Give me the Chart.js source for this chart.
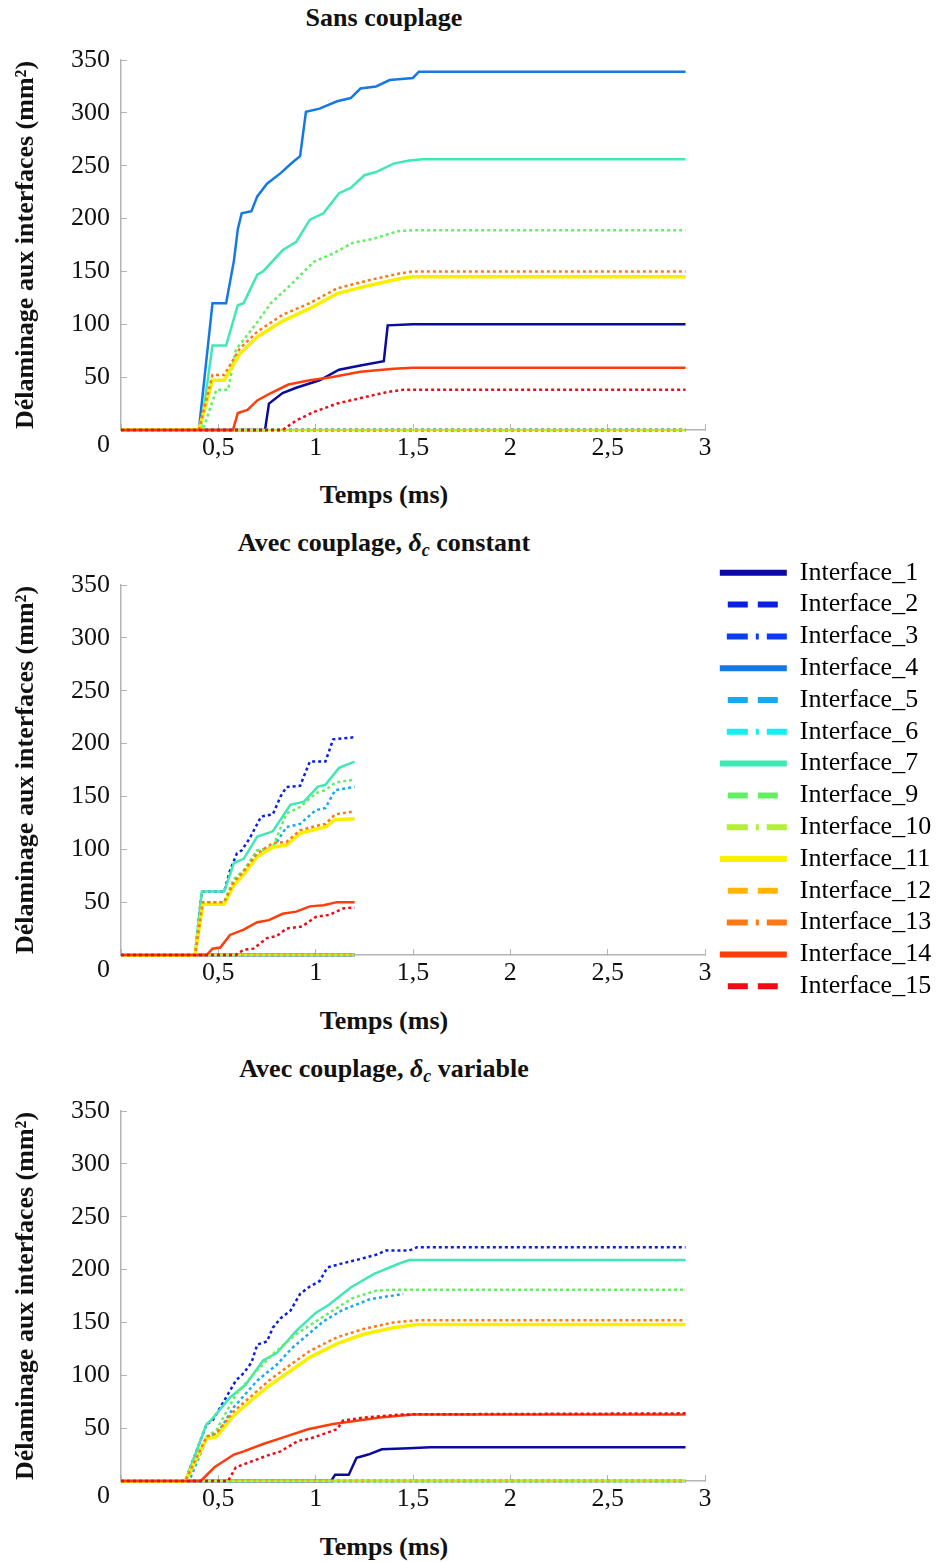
<!DOCTYPE html>
<html>
<head>
<meta charset="utf-8">
<script src="https://cdn.jsdelivr.net/npm/chart.js@4/dist/chart.umd.min.js"></script>
<style>
    body { margin: 0; background: #fff; }
    #page { position: relative; width: 946px; height: 1562px; font-family: "Liberation Serif", "Times New Roman", serif; color: #111; }
    .ttl, .xt { position: absolute; left: 0; width: 768px; text-align: center; font-weight: bold; font-size: 26px; line-height: 30px; }
    .ttl i { font-weight: bold; }
    .ttl sub { font-size: 18px; vertical-align: -5px; line-height: 0; }
    .box { position: absolute; left: 0; }
    #legendBox { position: absolute; left: 714px; top: 554px; }
</style>
</head>
<body>
<div id="page">
    <div class="ttl" style="top:3px">Sans couplage</div>
    <div class="box" style="top:30px"><canvas id="chartSans" width="720" height="440"></canvas></div>
    <div class="xt" style="top:480px">Temps (ms)</div>

    <div class="ttl" style="top:528px">Avec couplage, <i>δ<sub>c</sub></i> constant</div>
    <div class="box" style="top:555px"><canvas id="chartConst" width="720" height="440"></canvas></div>
    <div class="xt" style="top:1006px">Temps (ms)</div>

    <div class="ttl" style="top:1054px">Avec couplage, <i>δ<sub>c</sub></i> variable</div>
    <div class="box" style="top:1081px"><canvas id="chartVar" width="720" height="440"></canvas></div>
    <div class="xt" style="top:1532px">Temps (ms)</div>

    <div id="legendBox"><canvas id="legendChart" width="232" height="470"></canvas></div>
</div>
<script>
// ========== DATA ==========
const names = ['Interface_1', 'Interface_2', 'Interface_3', 'Interface_4', 'Interface_5', 'Interface_6', 'Interface_7',
    'Interface_9', 'Interface_10', 'Interface_11', 'Interface_12', 'Interface_13', 'Interface_14', 'Interface_15'];
const colors = ['#0a0a9c', '#0a1ee6', '#0a3cf0', '#1478e6', '#14aaf0', '#14eef0', '#40e8b4',
    '#64ee64', '#b4f032', '#f8f000', '#ffb400', '#ff7814', '#ff3c0a', '#f00a14'];
const styles = ['solid', 'dash', 'dashdot', 'solid', 'dash', 'dashdot', 'solid',
    'dash', 'dashdot', 'solid', 'dash', 'dashdot', 'solid', 'dash'];

const xTicks = [0, 0.5, 1, 1.5, 2, 2.5, 3];
const yTicks = [0, 50, 100, 150, 200, 250, 300, 350];

// Sans couplage
const sans1T = [0, 0.74, 0.76, 0.83, 0.90, 1.02, 1.12, 1.23, 1.35, 1.37, 1.50, 2.90];
const sans1V = [0, 0, 25, 35, 40, 47, 57, 61, 65, 99, 100, 100];
const sans4T = [0, 0.40, 0.47, 0.54, 0.56, 0.58, 0.60, 0.62, 0.67, 0.70, 0.75, 0.82, 0.88, 0.92, 0.95, 1.02, 1.11, 1.18, 1.23, 1.31, 1.38, 1.50, 1.53, 2.90];
const sans4V = [0, 0, 120, 120, 140, 160, 190, 205, 207, 221, 233, 243, 253, 259, 301, 304, 311, 314, 323, 325, 331, 333, 339, 339];
const sans7T = [0, 0.41, 0.47, 0.54, 0.60, 0.63, 0.70, 0.73, 0.83, 0.90, 0.97, 1.04, 1.12, 1.18, 1.25, 1.31, 1.40, 1.48, 1.55, 2.90];
const sans7V = [0, 0, 80, 80, 118, 120, 147, 150, 170, 178, 199, 205, 224, 229, 241, 244, 252, 255, 256, 256];
const sans9T = [0, 0.42, 0.49, 0.55, 0.59, 0.70, 0.77, 0.87, 0.99, 1.09, 1.19, 1.30, 1.42, 1.50, 2.90];
const sans9V = [0, 0, 38, 38, 76, 102, 120, 137, 159, 167, 177, 181, 188, 189, 189];
const sans11T = [0, 0.40, 0.47, 0.53, 0.61, 0.70, 0.83, 0.97, 1.11, 1.28, 1.43, 1.50, 2.90];
const sans11V = [0, 0, 47, 47, 72, 88, 103, 115, 129, 137, 143, 145, 145];
const sans13T = [0, 0.40, 0.47, 0.53, 0.61, 0.70, 0.83, 0.97, 1.11, 1.28, 1.43, 1.50, 2.90];
const sans13V = [0, 0, 52, 52, 77, 93, 109, 120, 134, 142, 148, 150, 150];
const sans14T = [0, 0.575, 0.60, 0.65, 0.70, 0.77, 0.86, 0.97, 1.08, 1.23, 1.40, 1.50, 2.90];
const sans14V = [0, 0, 16, 19, 28, 35, 43, 47, 50, 55, 58, 59, 59];
const sans15T = [0, 0.83, 0.90, 0.99, 1.11, 1.25, 1.37, 1.45, 2.90];
const sans15V = [0, 0, 9, 17, 25, 31, 36, 38, 38];
const sansZeroT = [0, 2.90];

// Avec couplage, delta_c constant
const cst2T = [0, 0.38, 0.415, 0.53, 0.56, 0.595, 0.62, 0.66, 0.72, 0.78, 0.82, 0.85, 0.92, 0.97, 1.05, 1.09, 1.20];
const cst2V = [0, 0, 60, 60, 80, 96, 99, 110, 131, 133, 150, 159, 160, 183, 183, 204, 206];
const cst5T = [0, 0.38, 0.42, 0.53, 0.58, 0.63, 0.70, 0.78, 0.85, 0.92, 1.00, 1.05, 1.10, 1.20];
const cst5V = [0, 0, 50, 50, 70, 79, 99, 101, 121, 124, 137, 139, 156, 159];
const cst7T = [0, 0.38, 0.415, 0.53, 0.58, 0.63, 0.70, 0.78, 0.87, 0.94, 1.01, 1.05, 1.12, 1.20];
const cst7V = [0, 0, 60, 60, 87, 91, 112, 117, 142, 145, 159, 161, 177, 183];
const cst9T = [0, 0.38, 0.42, 0.53, 0.58, 0.63, 0.70, 0.78, 0.85, 0.92, 1.00, 1.05, 1.10, 1.20];
const cst9V = [0, 0, 50, 50, 72, 80, 99, 102, 134, 140, 153, 156, 163, 166];
const cst11T = [0, 0.38, 0.42, 0.53, 0.58, 0.63, 0.70, 0.78, 0.85, 0.92, 1.00, 1.05, 1.10, 1.20];
const cst11V = [0, 0, 48, 48, 66, 76, 93, 102, 104, 115, 119, 121, 128, 129];
const cst13T = [0, 0.38, 0.42, 0.53, 0.58, 0.63, 0.70, 0.78, 0.85, 0.92, 1.00, 1.05, 1.10, 1.20];
const cst13V = [0, 0, 50, 50, 69, 79, 96, 106, 107, 118, 122, 124, 133, 136];
const cst14T = [0, 0.44, 0.47, 0.51, 0.56, 0.63, 0.70, 0.76, 0.83, 0.90, 0.97, 1.04, 1.11, 1.20];
const cst14V = [0, 0, 6, 7, 19, 24, 31, 33, 39, 41, 46, 47, 50, 50];
const cst15T = [0, 0.59, 0.63, 0.68, 0.75, 0.80, 0.85, 0.93, 1.00, 1.07, 1.14, 1.20];
const cst15V = [0, 0, 5, 6, 16, 18, 25, 27, 36, 38, 44, 45];
const cstZeroT = [0, 1.20];

// Avec couplage, delta_c variable
const var1T = [0, 1.08, 1.10, 1.17, 1.21, 1.27, 1.34, 1.48, 1.59, 2.90];
const var1V = [0, 0, 6, 6, 22, 25, 30, 31, 32, 32];
const var2T = [0, 0.33, 0.44, 0.47, 0.53, 0.59, 0.63, 0.67, 0.70, 0.75, 0.78, 0.82, 0.87, 0.92, 0.97, 1.02, 1.06, 1.14, 1.23, 1.31, 1.36, 1.48, 1.52, 2.90];
const var2V = [0, 0, 54, 57, 76, 95, 102, 112, 129, 132, 145, 154, 161, 177, 184, 189, 202, 206, 210, 214, 218, 218, 221, 221];
const var5T = [0, 0.35, 0.44, 0.50, 0.58, 0.70, 0.80, 0.88, 1.04, 1.14, 1.28, 1.45];
const var5V = [0, 0, 40, 46, 70, 95, 110, 126, 151, 162, 172, 177];
const var7T = [0, 0.33, 0.44, 0.46, 0.56, 0.64, 0.73, 0.80, 0.90, 1.00, 1.07, 1.18, 1.30, 1.42, 1.48, 2.90];
const var7V = [0, 0, 54, 57, 79, 91, 114, 121, 142, 159, 167, 183, 196, 205, 209, 209];
const var9T = [0, 0.34, 0.44, 0.49, 0.59, 0.70, 0.78, 0.90, 1.06, 1.19, 1.31, 1.40, 2.90];
const var9V = [0, 0, 42, 48, 82, 105, 120, 139, 158, 173, 180, 181, 181];
const var11T = [0, 0.33, 0.44, 0.49, 0.58, 0.68, 0.76, 0.87, 0.97, 1.11, 1.25, 1.40, 1.52, 2.90];
const var11V = [0, 0, 40, 42, 62, 78, 90, 104, 117, 130, 139, 145, 148, 148];
const var13T = [0, 0.33, 0.44, 0.49, 0.58, 0.68, 0.76, 0.87, 0.97, 1.11, 1.25, 1.40, 1.52, 2.90];
const var13V = [0, 0, 42, 45, 66, 82, 95, 110, 123, 136, 144, 150, 152, 152];
const var14T = [0, 0.41, 0.48, 0.58, 0.63, 0.73, 0.83, 0.96, 1.09, 1.21, 1.33, 1.50, 2.90];
const var14V = [0, 0, 13, 25, 28, 35, 41, 49, 54, 57, 60, 63, 63];
const var15T = [0, 0.55, 0.59, 0.75, 0.82, 0.91, 0.97, 1.11, 1.14, 1.24, 1.45, 2.90];
const var15V = [0, 0, 13, 24, 28, 38, 40, 49, 57, 60, 63, 64];
const varZeroT = [0, 2.90];

// which curve each interface follows in each panel (null = stays at 0)
const sansCurves = [[sans1T, sans1V], null, null, [sans4T, sans4V], null, null, [sans7T, sans7V],
    [sans9T, sans9V], null, [sans11T, sans11V], null, [sans13T, sans13V], [sans14T, sans14V], [sans15T, sans15V]];
const cstCurves = [null, [cst2T, cst2V], null, null, [cst5T, cst5V], null, [cst7T, cst7V],
    [cst9T, cst9V], null, [cst11T, cst11V], null, [cst13T, cst13V], [cst14T, cst14V], [cst15T, cst15V]];
const varCurves = [[var1T, var1V], [var2T, var2V], null, null, [var5T, var5V], null, [var7T, var7V],
    [var9T, var9V], null, [var11T, var11V], null, [var13T, var13V], [var14T, var14V], [var15T, var15V]];

// ========== HELPERS ==========
const FONT = '"Liberation Serif", "Times New Roman", serif';
const INK = '#111';
const AXIS = '#b4b4b4';
const TICK_IN = -6;   // small tick marks pointing into the plot

const toPoints = (ts, vs) => ts.map((t, i) => ({ x: t, y: vs[i] }));
const formatTime = (v) => v === 0 ? '' : String(v).replace('.', ',');

function buildDatasets(curves, zeroT) {
    return names.map((name, i) => {
        const curve = curves[i];
        const pts = curve ? toPoints(curve[0], curve[1]) : toPoints(zeroT, zeroT.map(() => 0));
        return {
            label: name,
            data: pts,
            borderColor: colors[i],
            backgroundColor: colors[i],
            borderWidth: i === 9 ? 3.5 : 2.5,
            borderDash: styles[i] === 'solid' ? [] : [3, 3],
            borderDashOffset: i === 8 ? 3 : 0,   // Interface_10 fills the gaps of Interface_12 on the zero line
            pointRadius: 0,
            tension: 0,
            fill: false,
            clip: 6,
            order: names.length - i   // later interfaces drawn on top
        };
    });
}

function makePanel(canvasId, curves, zeroT) {
    const ctx = document.getElementById(canvasId).getContext('2d');
    return new Chart(ctx, {
        type: 'line',
        data: { datasets: buildDatasets(curves, zeroT) },
        options: {
            responsive: false,
            animation: false,
            devicePixelRatio: 1,
            layout: { padding: { top: 30, right: 15, bottom: 0, left: 0 } },
            plugins: { legend: { display: false }, tooltip: { enabled: false } },
            scales: {
                x: {
                    type: 'linear',
                    min: xTicks[0],
                    max: xTicks[xTicks.length - 1],
                    afterBuildTicks: (s) => { s.ticks = xTicks.map(v => ({ value: v })); },
                    afterFit: (s) => { s.height = 40; s.paddingLeft = 0; s.paddingRight = 0; },
                    grid: { display: true, drawOnChartArea: false, drawTicks: true, tickLength: TICK_IN, tickColor: AXIS, tickWidth: 1 },
                    border: { display: true, color: AXIS, width: 1.5 },
                    ticks: {
                        padding: 3 - TICK_IN,
                        color: INK,
                        font: { family: FONT, size: 26 },
                        maxRotation: 0,
                        autoSkip: false,
                        callback: formatTime
                    }
                },
                y: {
                    min: yTicks[0],
                    max: yTicks[yTicks.length - 1],
                    afterBuildTicks: (s) => { s.ticks = yTicks.map(v => ({ value: v })); },
                    // fixed axis box so the plot area is the same in all three panels
                    afterFit: (s) => { s.width = 121; s.paddingTop = 0; s.paddingBottom = 0; },
                    grid: { display: true, drawOnChartArea: false, drawTicks: true, tickLength: TICK_IN, tickColor: AXIS, tickWidth: 1 },
                    border: { display: true, color: AXIS, width: 1.5 },
                    ticks: {
                        padding: 11 - TICK_IN,
                        color: INK,
                        font: { family: FONT, size: 26 },
                        autoSkip: false,
                        callback: (v) => v === 0 ? ['', '0'] : String(v)
                    },
                    title: {
                        display: true,
                        text: 'Délaminage aux interfaces (mm²)',
                        color: INK,
                        font: { family: FONT, size: 26, weight: 'bold' },
                        padding: { top: 11, bottom: 0 }
                    }
                }
            }
        }
    });
}

// ========== LEGEND ==========
const legendDash = { solid: [], dash: [20, 10], dashdot: [21, 8, 3, 8] };
const legendOffset = { solid: 0, dash: 22, dashdot: 33 };

function makeLegend() {
    const ctx = document.getElementById('legendChart').getContext('2d');
    return new Chart(ctx, {
        type: 'line',
        data: {
            datasets: names.map((name, i) => ({ label: name, data: [], borderColor: colors[i], backgroundColor: colors[i] }))
        },
        options: {
            responsive: false,
            animation: false,
            devicePixelRatio: 1,
            layout: { padding: 0 },
            scales: { x: { display: false }, y: { display: false } },
            plugins: {
                tooltip: { enabled: false },
                legend: {
                    position: 'top',
                    align: 'start',
                    maxHeight: 470,
                    onClick: null,
                    labels: {
                        color: INK,
                        font: { family: FONT, size: 26 },
                        usePointStyle: true,
                        pointStyle: 'line',
                        pointStyleWidth: 67,
                        padding: 5.8,
                        generateLabels: () => names.map((name, i) => ({
                            text: name,
                            fillStyle: colors[i],
                            strokeStyle: colors[i],
                            lineWidth: 6,
                            lineDash: legendDash[styles[i]],
                            lineDashOffset: legendOffset[styles[i]],
                            pointStyle: 'line',
                            hidden: false,
                            datasetIndex: i
                        }))
                    }
                }
            }
        }
    });
}

makePanel('chartSans', sansCurves, sansZeroT);
makePanel('chartConst', cstCurves, cstZeroT);
makePanel('chartVar', varCurves, varZeroT);
makeLegend();
</script>
</body>
</html>
